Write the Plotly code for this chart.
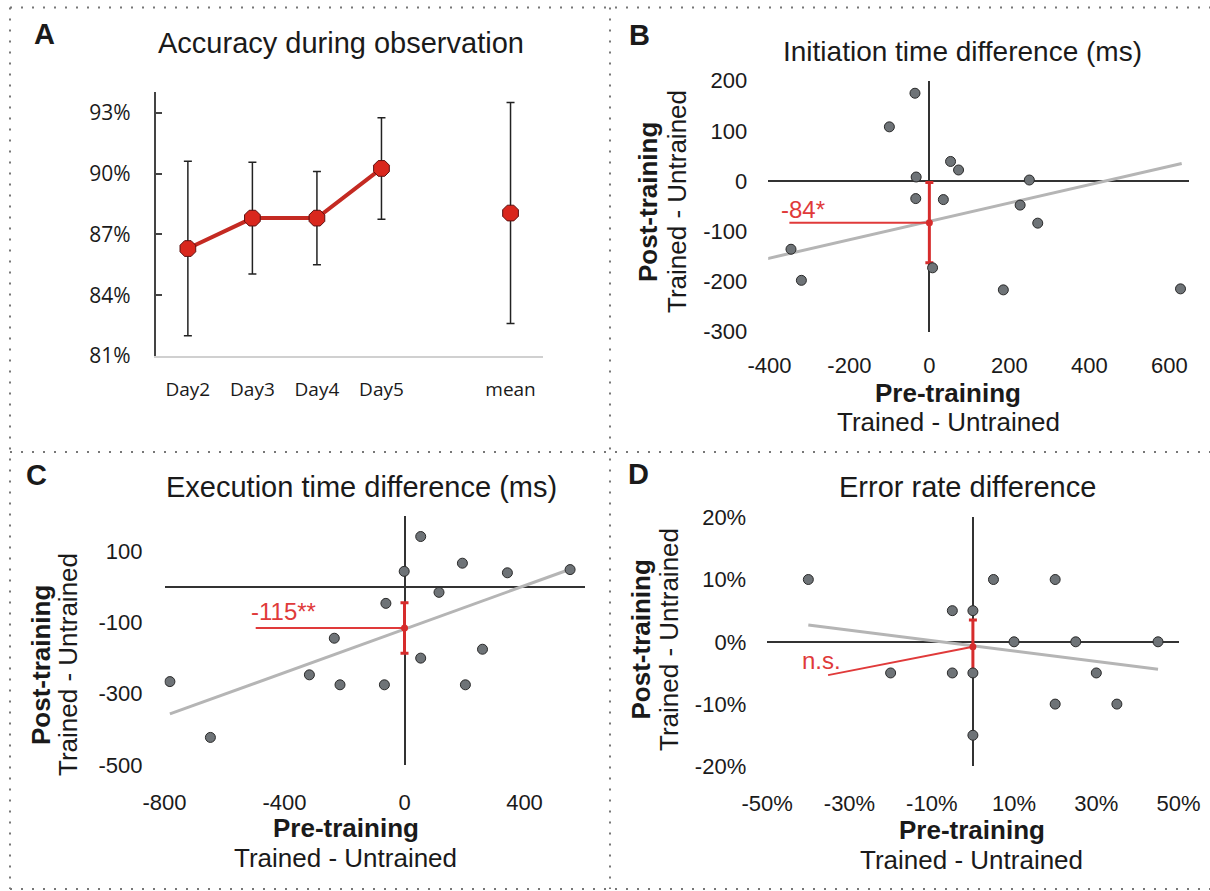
import plotly.graph_objects as go

W, H = 1210, 891

# ---------------- Panel A: accuracy during observation ----------------
acc_days = ["Day2", "Day3", "Day4", "Day5"]
acc_mean = [86.3, 87.8, 87.8, 90.25]
acc_err = [4.3, 2.75, 2.3, 2.5]
acc_overall_label = "mean"
acc_overall = 88.05
acc_overall_err = 5.45
acc_ticks = [81, 84, 87, 90, 93]

# ---------------- Panel B: initiation time difference (ms) ----------------
init_pre = [-36, -100, -33, -34, 53, 73, 35, 250, 227, 271, 8, -346, -320, 185, 628]
init_post = [175, 108, 8, -35, 39, 22, -37, 2, -48, -84, -173, -136, -198, -217, -215]
init_fit_x = [-407, 631]
init_fit_y = [-155, 35]
init_intercept = -83
init_ci = 80
init_leader_x = [-350, 0]
init_label = "-84*"
init_xticks = [-400, -200, 0, 200, 400, 600]
init_yticks = [-300, -200, -100, 0, 100, 200]

# ---------------- Panel C: execution time difference (ms) ----------------
exec_pre = [54, -1, 193, 343, 552, 115, -62, -234, 54, 260, -317, -215, -67, 203, -782, -647]
exec_post = [142, 44, 67, 40, 49, -15, -46, -144, -200, -175, -247, -275, -275, -275, -266, -423]
exec_fit_x = [-782, 552]
exec_fit_y = [-357, 50]
exec_intercept = -115
exec_ci = 71
exec_leader_x = [-496, 0]
exec_label = "-115**"
exec_xticks = [-800, -400, 0, 400]
exec_yticks = [-500, -300, -100, 100]

# ---------------- Panel D: error rate difference (%) ----------------
err_pre = [-40, 5, 20, -5, 0, 10, 25, 45, -20, -5, 0, 30, 20, 35, 0]
err_post = [10, 10, 10, 5, 5, 0, 0, 0, -5, -5, -5, -5, -10, -10, -15]
err_fit_x = [-40, 45]
err_fit_y = [2.7, -4.4]
err_intercept = -0.8
err_ci = 4.3
err_leader_x = [-35.2, 0]
err_leader_y = [-5.35, -0.8]
err_label = "n.s."
err_xticks = [-50, -30, -10, 10, 30, 50]
err_yticks = [-20, -10, 0, 10, 20]

FONT = "Liberation Sans, Arial, sans-serif"
TXT = "#1a1a1a"
RED = "#e03a3a"
RED_BAR = "#d62c2c"
PT_FILL = "#6e7377"
PT_LINE = "#2a2a2a"
FIT = "#b5b5b5"


def px(x):
    return x / W


def py(y):
    return 1 - y / H


def labels(vals, suffix=""):
    # plain hyphen-minus as in the original figure
    return ["%d%s" % (v, suffix) for v in vals]


fig = go.Figure()

# ---- Panel A traces
fig.add_trace(go.Scatter(
    x=list(range(len(acc_days))), y=acc_mean, mode="lines+markers",
    line=dict(color="#c42a22", width=4),
    marker=dict(symbol="octagon", size=17, color="#d9271d", line=dict(color="#5a1010", width=1)),
    error_y=dict(type="data", array=acc_err, color="#222222", thickness=1.5, width=4),
    xaxis="x", yaxis="y"))
fig.add_trace(go.Scatter(
    x=[len(acc_days) + 1], y=[acc_overall], mode="markers",
    marker=dict(symbol="octagon", size=17, color="#d9271d", line=dict(color="#5a1010", width=1)),
    error_y=dict(type="data", array=[acc_overall_err], color="#222222", thickness=1.5, width=4),
    xaxis="x", yaxis="y"))


def scatter_panel(xa, ya, pre, post, fit_x, fit_y, lead_x, lead_y, icpt, ci):
    fig.add_trace(go.Scatter(x=fit_x, y=fit_y, mode="lines",
                             line=dict(color=FIT, width=3), xaxis=xa, yaxis=ya))
    fig.add_trace(go.Scatter(x=lead_x, y=lead_y, mode="lines",
                             line=dict(color=RED, width=2), xaxis=xa, yaxis=ya))
    fig.add_trace(go.Scatter(x=[0], y=[icpt], mode="markers",
                             marker=dict(color=RED_BAR, size=7),
                             error_y=dict(type="data", array=[ci], color=RED_BAR, thickness=3, width=4),
                             xaxis=xa, yaxis=ya))
    fig.add_trace(go.Scatter(x=pre, y=post, mode="markers",
                             marker=dict(size=10, color=PT_FILL, line=dict(color=PT_LINE, width=1)),
                             xaxis=xa, yaxis=ya))


scatter_panel("x2", "y2", init_pre, init_post, init_fit_x, init_fit_y,
              init_leader_x, [init_intercept, init_intercept], init_intercept, init_ci)
scatter_panel("x3", "y3", exec_pre, exec_post, exec_fit_x, exec_fit_y,
              exec_leader_x, [exec_intercept, exec_intercept], exec_intercept, exec_ci)
scatter_panel("x4", "y4", err_pre, err_post, err_fit_x, err_fit_y,
              err_leader_x, err_leader_y, err_intercept, err_ci)

tickfont = dict(family=FONT, size=22, color=TXT)


def sc_axis(dom, rng, vals, anchor, standoff, suffix=""):
    return dict(domain=dom, range=rng, tickmode="array", tickvals=vals, ticktext=labels(vals, suffix),
                showgrid=False, showline=False, ticks="", zeroline=True,
                zerolinecolor="#333333", zerolinewidth=1.5, tickfont=tickfont,
                anchor=anchor, ticklabelstandoff=standoff, automargin=False,
                fixedrange=True)


layout = dict(
    width=W, height=H, margin=dict(l=0, r=0, t=0, b=0),
    paper_bgcolor="white", plot_bgcolor="white", showlegend=False,
    xaxis=dict(domain=[px(155.6), px(542.8)], range=[-0.5, 5.5], tickmode="array",
               tickvals=list(range(len(acc_days))) + [len(acc_days) + 1],
               ticktext=acc_days + [acc_overall_label],
               showgrid=False, zeroline=False, showline=True, linecolor="#d0d0d0", linewidth=1.5,
               ticks="", tickfont=dict(family="Open Sans, sans-serif", size=19, color=TXT),
               ticklabelstandoff=15, anchor="y", automargin=False, fixedrange=True),
    yaxis=dict(domain=[py(356), py(92.4)], range=[81, 94], tickmode="array",
               tickvals=acc_ticks, ticktext=labels(acc_ticks, "%"),
               showgrid=False, zeroline=False, showline=True, linecolor="#444444", linewidth=1.5,
               ticks="inside", ticklen=7, tickcolor="#444444", tickwidth=1.5,
               tickfont=dict(family="Open Sans, sans-serif", size=21, color=TXT),
               ticklabelstandoff=19, anchor="x", automargin=False, fixedrange=True),
    xaxis2=sc_axis([px(768.2), px(1189.3)], [-403, 650], init_xticks, "y2", 18),
    yaxis2=sc_axis([py(331.5), py(80.7)], [-300, 200], init_yticks, "x2", 20),
    xaxis3=sc_axis([px(164.5), px(584.5)], [-800, 600], exec_xticks, "y3", 22),
    yaxis3=sc_axis([py(764.8), py(515.9)], [-500, 200], exec_yticks, "x3", 21),
    xaxis4=sc_axis([px(767.2), px(1178.6)], [-50, 50], err_xticks, "y4", 22, "%"),
    yaxis4=sc_axis([py(766.4), py(517.2)], [-20, 20], err_yticks, "x4", 20, "%"),
)
fig.update_layout(**layout)

# ---- dotted panel separators
dot = dict(color="#777777", width=2, dash="2px,9px")
shapes = [
    dict(type="line", xref="paper", yref="paper", x0=px(10), x1=1, y0=py(7.5), y1=py(7.5), line=dot),
    dict(type="line", xref="paper", yref="paper", x0=px(10), x1=1, y0=py(452), y1=py(452), line=dot),
    dict(type="line", xref="paper", yref="paper", x0=px(10), x1=1, y0=py(889), y1=py(889), line=dot),
    dict(type="line", xref="paper", yref="paper", x0=px(10), x1=px(10), y0=py(7.5), y1=py(889), line=dot),
    dict(type="line", xref="paper", yref="paper", x0=px(610), x1=px(610), y0=py(7.5), y1=py(889), line=dot),
]
fig.update_layout(shapes=[dict(s, layer="below") for s in shapes])

ann = []


def text(x, y, s, size, bold=False, angle=0, color=TXT):
    ann.append(dict(xref="paper", yref="paper", x=px(x), y=py(y), text=("<b>%s</b>" % s) if bold else s,
                    showarrow=False, xanchor="center", yanchor="middle", textangle=angle,
                    font=dict(family=FONT, size=size, color=color)))


# panel letters
text(44.5, 34, "A", 29, bold=True)
text(639, 35, "B", 29, bold=True)
text(36, 475, "C", 29, bold=True)
text(638, 474, "D", 29, bold=True)

# titles
text(341, 43, "Accuracy during observation", 29)
text(962.5, 52, "Initiation time difference (ms)", 28)
text(361, 487, "Execution time difference (ms)", 29)
text(967, 487, "Error rate difference", 29)

# axis titles
for (yx1, yx2, yy, xx, xy1, xy2) in [
    (648, 677, 202, 948.4, 393, 422),
    (41, 68, 665, 345.5, 828, 858),
    (640.5, 669, 640, 972, 830, 860),
]:
    text(yx1, yy, "Post-training", 26, bold=True, angle=-90)
    text(yx2, yy, "Trained - Untrained", 26, angle=-90)
    text(xx, xy1, "Pre-training", 26, bold=True)
    text(xx, xy2, "Trained - Untrained", 26)

# red significance labels (data coordinates)
for xr, yr, lx, ly, s in [("x2", "y2", -317, -57, init_label),
                          ("x3", "y3", -405, -69, exec_label),
                          ("x4", "y4", -36.8, -3.05, err_label)]:
    ann.append(dict(xref=xr, yref=yr, x=lx, y=ly, text=s, showarrow=False,
                    xanchor="center", yanchor="middle",
                    font=dict(family=FONT, size=24, color=RED)))

fig.update_layout(annotations=ann)

fig.write_html("out.html", config={"displayModeBar": False},
               post_script="document.body.style.margin='0px';document.body.style.overflow='hidden';")
